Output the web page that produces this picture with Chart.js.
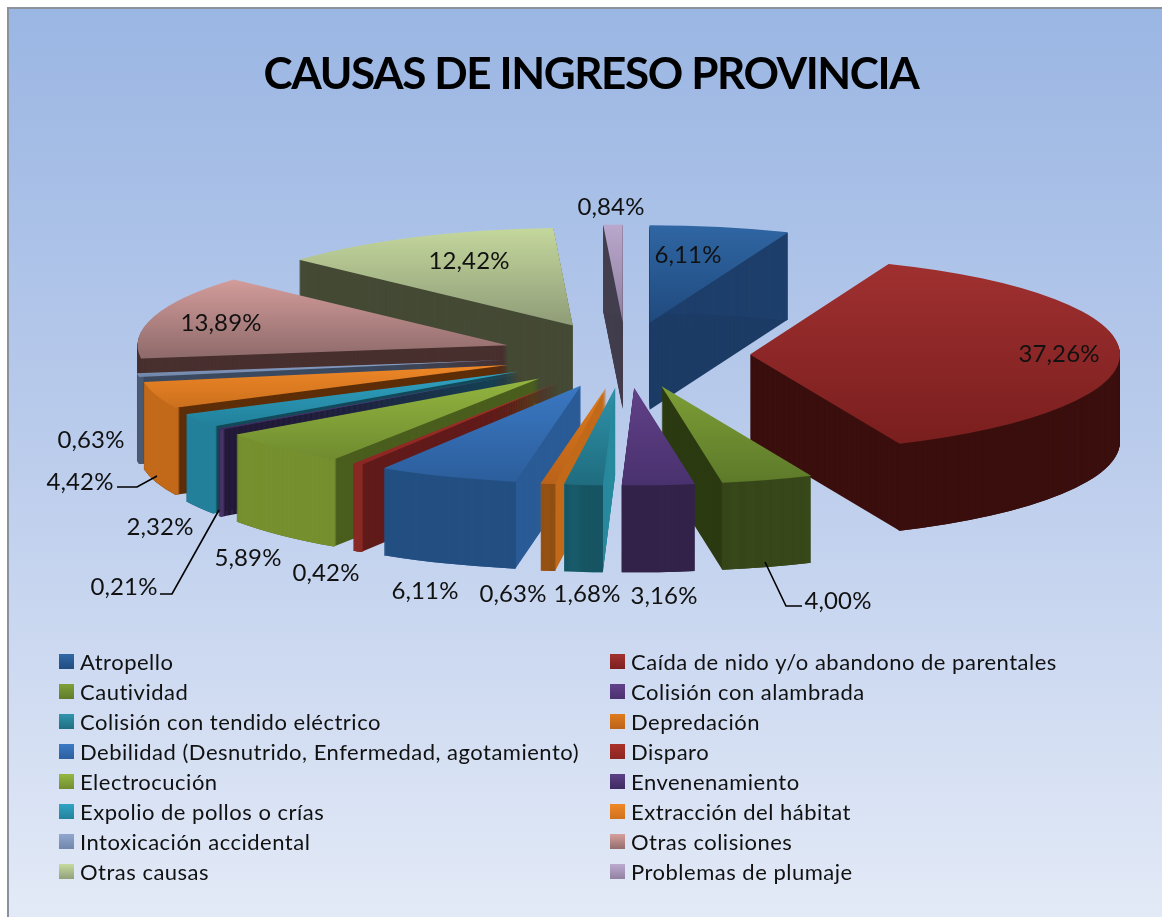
<!DOCTYPE html>
<html><head><meta charset="utf-8">
<style>html,body{margin:0;padding:0;background:#fff}canvas{display:block}#w{width:1162px;height:917px;position:relative}</style>
<script src="https://cdn.jsdelivr.net/npm/chart.js@4/dist/chart.umd.min.js"></script>
</head><body><div id="w"><canvas id="c" width="1162" height="917"></canvas></div>
<script>
const chartTitle = 'CAUSAS DE INGRESO PROVINCIA';
const categories = ['Atropello','Caída de nido y/o abandono de parentales','Cautividad','Colisión con alambrada','Colisión con tendido eléctrico','Depredación','Debilidad (Desnutrido, Enfermedad, agotamiento)','Disparo','Electrocución','Envenenamiento','Expolio de pollos o crías','Extracción del hábitat','Intoxicación accidental','Otras colisiones','Otras causas','Problemas de plumaje'];
const values = [6.11,37.26,4.00,3.16,1.68,0.63,6.11,0.42,5.89,0.21,2.32,4.42,0.63,13.89,12.42,0.84];
const topLight = ['#2f66a3','#a03030','#7d9e36','#614088','#2f92aa','#dd7a1c','#3a78c2','#a83029','#93b540','#5a3f85','#30a2c2','#ee8727','#8fa5cc','#d29c9a','#c4d79c','#baa8cc'];
const topDark  = ['#204a7e','#7a1e1e','#5d7a2a','#49316e','#1f6c7e','#b9621a','#2c5e9c','#8a2622','#6f8b2f','#3d2a5e','#21809a','#cc701d','#6f84a8','#8e6a6a','#8f9c78','#8e7e9f'];
const outerWall = ['#1e3f6b','#3a0f0d','#38481a','#33234a','#175563','#8f4e12','#234f82','#8a2a25','#76902f','#4b3568','#24809b','#c2691a','#4a5a72','#48302f','#454a35','#433e4e'];
const cutWall   = ['#1c3c66','#3a0f0d','#2b3a11','#33234a','#2a8a9e','#c26a1a','#2a5b96','#611b1a','#4a5e1e','#241838','#134a5a','#5d2e08','#3c4a60','#48302f','#454a35','#433e4e'];

const pieCenter = {x:626, y:355}, squash = 0.264, depth = 87, pieRadius = 370, explode = 124;
const labelPos = [[688,255],[1059,354],[838,601],[664,596],[587,594],[513,594],[425,591],[326,573],[248,558],[124,587],[160,527],[80,482],[91,440],[221,323],[469,261],[611,207]];
const leaders = [[[765,562],[786,606],[802,606]],[[117,487],[137,487],[157,476]],[[160,594],[172,594],[219,510]]];
const legendRows = {firstY:662, step:30, col:[{box:59,text:80},{box:610,text:631}], box:15};
const fmt = v => v.toFixed(2).replace('.',',') + '%';

function spaced(ctx, txt, x, y, sp){ ctx.letterSpacing = sp + 'px'; ctx.fillText(txt, x, y); ctx.letterSpacing = '0px'; }

const pie3d = {
  id:'pie3d',
  beforeDraw(chart){
    const {ctx,width,height} = chart;
    ctx.save();
    ctx.fillStyle='#fff'; ctx.fillRect(0,0,width,height);
    const g=ctx.createLinearGradient(0,9,0,height);
    g.addColorStop(0,'#9ab6e3'); g.addColorStop(0.5,'#bccdec'); g.addColorStop(1,'#e3eaf7');
    ctx.fillStyle=g; ctx.fillRect(9,9,width-9,height-9);
    ctx.fillStyle='#8c919b'; ctx.fillRect(7,7,width-7,2); ctx.fillRect(7,7,2,height-7);
    ctx.restore();
    ctx.letterSpacing='-1.4px';
  },
  afterLayout(chart){ if(chart.titleBlock){chart.titleBlock.left+=10; chart.titleBlock.right+=10;} },
  beforeDatasetsDraw(chart){
    const {ctx} = chart, meta = chart.getDatasetMeta(0);
    ctx.letterSpacing='0px';
    const mid=a=>(a.startAngle+a.endAngle)/2;
    const order = meta.data.map((a,i)=>i).sort((p,q)=>Math.sin(mid(meta.data[p]))-Math.sin(mid(meta.data[q])));
    order.forEach(i=>{
      const arc = meta.data[i], m = mid(arc);
      const view = (dy)=>{
        ctx.setTransform(1,0,0,squash,
          pieCenter.x-arc.x+Math.cos(m)*explode,
          pieCenter.y+dy-arc.y*squash+Math.sin(m)*explode*squash);
      };
      const variant = (color,extra)=>{ const p=Object.create(arc); p.options=Object.assign({},arc.options,{backgroundColor:color,borderWidth:0}); Object.assign(p,extra||{}); return p; };
      ctx.save();
      const cut = variant(cutWall[i]);
      for(let k=depth;k>=1;k--){ view(k); cut.draw(ctx); }
      const rim = variant(outerWall[i],{innerRadius:arc.outerRadius-5});
      for(let k=depth;k>=1;k--){ view(k); rim.draw(ctx); }
      view(0);
      const ys=[0];
      for(let t=0;t<=8;t++){ ys.push(arc.outerRadius*Math.sin(arc.startAngle+(arc.endAngle-arc.startAngle)*t/8)); }
      const grad=ctx.createLinearGradient(0,arc.y+Math.min(...ys),0,arc.y+Math.max(...ys)+1);
      grad.addColorStop(0,topLight[i]); grad.addColorStop(1,topDark[i]);
      variant(grad).draw(ctx);
      ctx.restore();
    });
    return false;
  },
  afterDraw(chart){
    const {ctx} = chart;
    ctx.save();
    ctx.strokeStyle='#000'; ctx.lineWidth=1.6;
    leaders.forEach(l=>{ ctx.beginPath(); l.forEach((p,n)=>n?ctx.lineTo(p[0],p[1]):ctx.moveTo(p[0],p[1])); ctx.stroke(); });
    ctx.fillStyle='#111'; ctx.textAlign='center'; ctx.textBaseline='middle';
    ctx.font='24px Lato';
    values.forEach((v,i)=>spaced(ctx,fmt(v),labelPos[i][0],labelPos[i][1],0.1));
    ctx.textAlign='left'; ctx.font='22px Lato';
    categories.forEach((name,i)=>{
      const col=legendRows.col[i%2], y=legendRows.firstY+legendRows.step*Math.floor(i/2), b=legendRows.box;
      const g=ctx.createLinearGradient(0,y-7,0,y+8);
      g.addColorStop(0,topLight[i]); g.addColorStop(1,topDark[i]);
      ctx.fillStyle=g; ctx.fillRect(col.box,y-8,b,b);
      ctx.fillStyle='#111';
      spaced(ctx,name,col.text,y+1,0.5);
    });
    ctx.restore();
  }
};

new Chart(document.getElementById('c'),{
  type:'pie',
  data:{labels:categories,datasets:[{data:values,backgroundColor:topLight,borderWidth:0,hoverOffset:0,radius:pieRadius}]},
  options:{
    responsive:false, animation:false, rotation:0,
    events:[],
    plugins:{
      legend:{display:false},tooltip:{enabled:false},
      title:{display:true,text:chartTitle,color:'#000',font:{family:'Lato',size:44,weight:'bold'},padding:{top:48,bottom:10}}
    }
  },
  plugins:[pie3d]
});
</script></body></html>
